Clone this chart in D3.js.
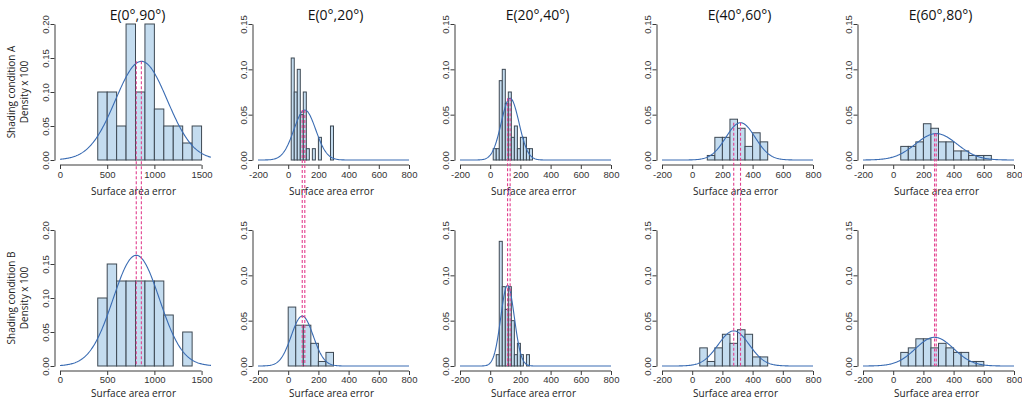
<!DOCTYPE html>
<html>
<head>
<meta charset="utf-8">
<script src="https://cdn.jsdelivr.net/npm/d3@7"></script>
<style>
  html, body { margin: 0; padding: 0; background: #ffffff; }
  svg { display: block; }
</style>
</head>
<body>
<svg id="chart" width="1022" height="398"></svg>
<script>
// ---------------- DATA ----------------
const titles = ["E(0°,90°)", "E(0°,20°)", "E(20°,40°)", "E(40°,60°)", "E(60°,80°)"];
const rowNames = ["Shading condition A", "Shading condition B"];
const yAxisTitle = "Density x 100";
const xAxisTitle = "Surface area error";

const xDomains = [[0, 1600], [-200, 800], [-200, 800], [-200, 800], [-200, 800]];
const xTicks = [
  [0, 500, 1000, 1500],
  [-200, 0, 200, 400, 600, 800],
  [-200, 0, 200, 400, 600, 800],
  [-200, 0, 200, 400, 600, 800],
  [-200, 0, 200, 400, 600, 800]
];
const yMax = [0.20, 0.15, 0.15, 0.15, 0.15];
const yTicks = [
  [0, 0.05, 0.10, 0.15, 0.20],
  [0, 0.05, 0.10, 0.15],
  [0, 0.05, 0.10, 0.15],
  [0, 0.05, 0.10, 0.15],
  [0, 0.05, 0.10, 0.15]
];

// Shading condition A histograms (bin start, bin width, bar heights)
const binStartA = [400, 20, 20, 100, 50];
const binWidthA = [100, 20, 20, 50, 50];
const densA = [
  [0.10, 0.10, 0.05, 0.20, 0.10, 0.20, 0.075, 0.05, 0.05, 0.025, 0.05],
  [0.1125, 0.075, 0.10, 0.05, 0.075, 0.0125, 0, 0.0125, 0, 0.025, 0, 0, 0, 0.0375],
  [0.0125, 0.0125, 0.0875, 0.10, 0.0625, 0.075, 0.025, 0.0375, 0.0125, 0.025, 0.025, 0.0125, 0.0125],
  [0.005, 0.025, 0.025, 0.045, 0.035, 0.015, 0.030, 0.020],
  [0.015, 0.015, 0.020, 0.040, 0.035, 0.020, 0.020, 0.010, 0.010, 0.005, 0.005, 0.005]
];
// Shading condition B histograms
const binStartB = [400, 0, 40, 50, 50];
const binWidthB = [100, 50, 20, 50, 50];
const densB = [
  [0.10, 0.15, 0.125, 0.125, 0.125, 0.125, 0.125, 0.075, 0, 0.05],
  [0.065, 0.045, 0.045, 0.025, 0.005, 0.015],
  [0.0125, 0.1375, 0.0875, 0.0625, 0.0875, 0.05, 0.0125, 0.025, 0.0125, 0, 0.0125],
  [0.020, 0.005, 0.020, 0.035, 0.025, 0.040, 0.035, 0.010, 0.010],
  [0.015, 0.020, 0.030, 0.030, 0.020, 0.025, 0.020, 0.015, 0.015, 0.005, 0.005]
];

// Fitted normal curves (mean, sd) and density multiplier per column
const meanA = [862, 110, 132, 320, 285];
const sdA   = [275, 72.5, 58.6, 97, 137];
const meanB = [808, 93, 115, 275, 274];
const sdB   = [245, 72.5, 44.8, 103, 126];
const densityScale = [100, 10, 10, 10, 10];

// ---------------- LAYOUT ----------------
const svg = d3.select("#chart");
const colLeft = [60, 258, 460, 662, 863];
const plotW = 151;
const rowBase = [160, 366];
const plotH = 136;
const xTitleOffset = [35, 30.5];
const xTickPad = [6, 5];

const barFill = "#c4dcef";
const barStroke = "#3d4853";
const curveColor = "#3a6cb3";
const meanColor = "#e2408f";
const axisColor = "#3a3a3a";
const tickFont = "'Liberation Sans', Arial, sans-serif";
const labelFont = "'Open Sans', 'Noto Sans', sans-serif";

function normal(x, m, s, k) {
  return k * Math.exp(-0.5 * ((x - m) / s) ** 2) / (s * Math.sqrt(2 * Math.PI));
}

const xScales = xDomains.map((d, i) => d3.scaleLinear().domain(d).range([colLeft[i], colLeft[i] + plotW]));

for (let r = 0; r < 2; r++) {
  const dens = r === 0 ? densA : densB;
  const bStart = r === 0 ? binStartA : binStartB;
  const bWidth = r === 0 ? binWidthA : binWidthB;
  const means = r === 0 ? meanA : meanB;
  const sds = r === 0 ? sdA : sdB;

  for (let c = 0; c < 5; c++) {
    const x = xScales[c];
    const y = d3.scaleLinear().domain([0, yMax[c]]).range([rowBase[r], rowBase[r] - plotH]);
    const g = svg.append("g");

    // bars
    const bins = dens[c].map((v, i) => ({x0: bStart[c] + i * bWidth[c], x1: bStart[c] + (i + 1) * bWidth[c], v}));
    g.selectAll("rect.bar").data(bins.filter(b => b.v > 0)).join("rect")
      .attr("class", "bar")
      .attr("x", d => x(d.x0))
      .attr("width", d => x(d.x1) - x(d.x0))
      .attr("y", d => y(d.v))
      .attr("height", d => y(0) - y(d.v))
      .attr("fill", barFill)
      .attr("stroke", barStroke)
      .attr("stroke-width", 1);

    // fitted normal curve
    const pts = d3.range(0, 201).map(i => {
      const xv = xDomains[c][0] + (xDomains[c][1] - xDomains[c][0]) * i / 200;
      return [xv, normal(xv, means[c], sds[c], densityScale[c])];
    });
    g.append("path")
      .attr("d", d3.line().x(d => x(d[0])).y(d => y(d[1]))(pts))
      .attr("fill", "none")
      .attr("stroke", curveColor)
      .attr("stroke-width", 1.1);

    // y axis
    const yAxis = g.append("g")
      .attr("transform", `translate(${colLeft[c] - 5.5},0)`)
      .call(d3.axisLeft(y).tickValues(yTicks[c]).tickFormat(d3.format(".2f")).tickSize(4).tickSizeOuter(0));
    yAxis.select(".domain").attr("stroke", axisColor);
    yAxis.selectAll(".tick line").attr("stroke", axisColor);
    yAxis.selectAll(".tick text")
      .attr("x", 0).attr("dy", 0)
      .attr("transform", "translate(-6,0) rotate(-90)")
      .attr("text-anchor", "middle")
      .attr("fill", "#333")
      .style("font-family", tickFont)
      .style("font-size", "9.5px");

    // x axis
    const xAxis = g.append("g")
      .attr("transform", `translate(0,${rowBase[r] + 5})`)
      .call(d3.axisBottom(x).tickValues(xTicks[c]).tickFormat(d => String(d)).tickSize(4).tickSizeOuter(0));
    xAxis.select(".domain").remove();
    const tk = xTicks[c];
    xAxis.append("line")
      .attr("x1", x(tk[0])).attr("x2", x(tk[tk.length - 1]))
      .attr("stroke", axisColor);
    xAxis.selectAll(".tick line").attr("stroke", axisColor);
    xAxis.selectAll(".tick text")
      .attr("y", xTickPad[r])
      .attr("fill", "#333")
      .style("font-family", tickFont)
      .style("font-size", "9.5px");

    // x axis title
    g.append("text")
      .attr("x", x(xDomains[c][0]) + plotW / 2 - 2)
      .attr("y", rowBase[r] + xTitleOffset[r])
      .attr("text-anchor", "middle")
      .style("font-family", labelFont)
      .style("font-size", "10px")
      .attr("fill", "#222")
      .text(xAxisTitle);

    // column title
    if (r === 0) {
      g.append("text")
        .attr("x", colLeft[c] + plotW / 2 + 2)
        .attr("y", 20)
        .attr("text-anchor", "middle")
        .style("font-family", labelFont)
        .style("font-size", "14px")
        .attr("fill", "#111")
        .text(titles[c]);
    }
  }

  // row titles
  const cy = rowBase[r] - plotH / 2;
  svg.append("text")
    .attr("transform", `translate(15,${cy}) rotate(-90)`)
    .attr("text-anchor", "middle")
    .style("font-family", labelFont)
    .style("font-size", "10px")
    .attr("fill", "#222")
    .text(rowNames[r]);
  svg.append("text")
    .attr("transform", `translate(28,${cy}) rotate(-90)`)
    .attr("text-anchor", "middle")
    .style("font-family", labelFont)
    .style("font-size", "10px")
    .attr("fill", "#222")
    .text(yAxisTitle);
}

// mean lines spanning both rows (from peak of condition A curve to baseline of condition B)
for (let c = 0; c < 5; c++) {
  const x = xScales[c];
  const yTop = d3.scaleLinear().domain([0, yMax[c]]).range([rowBase[0], rowBase[0] - plotH]);
  const yBot = d3.scaleLinear().domain([0, yMax[c]]).range([rowBase[1], rowBase[1] - plotH]);
  const peakA = normal(meanA[c], meanA[c], sdA[c], densityScale[c]);
  [meanA[c], meanB[c]].forEach(m => {
    svg.append("line")
      .attr("x1", x(m)).attr("x2", x(m))
      .attr("y1", yTop(peakA)).attr("y2", yBot(0))
      .attr("stroke", meanColor)
      .attr("stroke-width", 1.1)
      .attr("stroke-dasharray", "3,2");
  });
}
</script>
</body>
</html>
